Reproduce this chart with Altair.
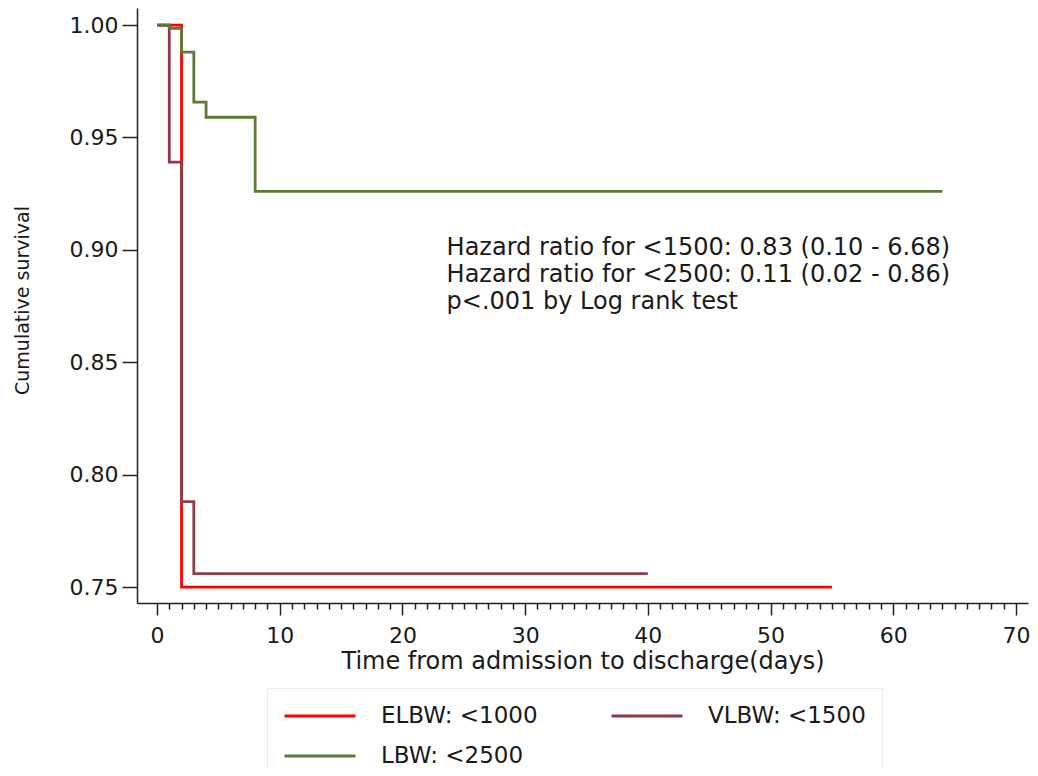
import altair as alt
import pandas as pd

# ---- data ----
groups = ["ELBW: <1000", "VLBW: <1500", "LBW: <2500"]
colors = ["#ff0000", "#8e3b47", "#5b7b34"]

elbw_time = [0, 2, 55]
elbw_surv = [1.0, 0.75, 0.75]

vlbw_time = [0, 1, 2, 3, 40]
vlbw_surv = [1.0, 0.939, 0.788, 0.756, 0.756]

lbw_time = [0, 1, 2, 3, 4, 8, 64]
lbw_surv = [1.0, 0.9985, 0.988, 0.9657, 0.959, 0.926, 0.926]

x_minor_ticks = list(range(0, 71))
x_major_ticks = [0, 10, 20, 30, 40, 50, 60, 70]
y_ticks = [0.75, 0.80, 0.85, 0.90, 0.95, 1.00]

annot_lines = [
    "Hazard ratio for <1500: 0.83 (0.10 - 6.68)",
    "Hazard ratio for <2500: 0.11 (0.02 - 0.86)",
    "p<.001 by Log rank test",
]
annot_x = [23.6]
annot_y = [0.8977]

x_title = "Time from admission to discharge(days)"
y_title = "Cumulative survival"

# ---- tables ----
rows = []
for g, ts, ss in zip(groups, [elbw_time, vlbw_time, lbw_time], [elbw_surv, vlbw_surv, lbw_surv]):
    for t, s in zip(ts, ss):
        rows.append({"group": g, "time": t, "surv": s})
df = pd.DataFrame(rows)

df_annot = pd.DataFrame({"x": annot_x, "y": annot_y, "text": ["\n".join(annot_lines)]})

FONT = "DejaVu Sans"
TXT = "#1a1a1a"

major_test = " || ".join(f"datum.value === {v}" for v in x_major_ticks)

x_scale = alt.Scale(domain=[-1.63, 70.98], nice=False, zero=False)
y_scale = alt.Scale(domain=[0.7429, 1.0076], nice=False, zero=False)
color_scale = alt.Scale(domain=groups, range=colors)

x_axis = alt.Axis(
    values=x_minor_ticks,
    tickCount=200,
    format="d",
    labelExpr=f"({major_test}) ? datum.label : ''",
    tickSize={"condition": {"test": major_test, "value": 12}, "value": 6},
    labelOverlap=False,
    labelFlush=False,
    labelFontSize=22,
    labelPadding=10,
    title=x_title,
    titleFontSize=24,
    titleFontWeight="normal",
    titlePadding=3,
    grid=False,
)
y_axis = alt.Axis(
    values=y_ticks,
    tickCount=20,
    format=".2f",
    tickSize=15,
    labelFontSize=22,
    labelPadding=4,
    title=y_title,
    titleFontSize=19,
    titleFontWeight="normal",
    titleAngle=270,
    titleAlign="center",
    titleBaseline="middle",
    titleX=-115,
    titleY=292,
    grid=False,
)

legend = alt.Legend(
    title=None,
    orient="none",
    legendX=130,
    legendY=680,
    direction="horizontal",
    columns=2,
    columnPadding=72,
    rowPadding=16,
    symbolType="stroke",
    symbolSize=5041,
    symbolStrokeWidth=3,
    clipHeight=24,
    labelOffset=24,
    labelFontSize=23,
    labelFont=FONT,
    labelColor=TXT,
    padding=16,
    strokeColor="#e6eded",
    fillColor="white",
    labelLimit=600,
)


def curve(i):
    return (
        alt.Chart(df)
        .transform_filter(alt.datum.group == groups[i])
        .mark_line(interpolate="step-after", strokeWidth=2.8)
        .encode(
            x=alt.X("time:Q", scale=x_scale, axis=x_axis),
            y=alt.Y("surv:Q", scale=y_scale, axis=y_axis),
            color=alt.Color("group:N", scale=color_scale, legend=legend),
        )
    )


text = (
    alt.Chart(df_annot)
    .mark_text(align="left", baseline="alphabetic", lineBreak="\n", lineHeight=27,
               fontSize=24, font=FONT, color=TXT)
    .encode(x=alt.X("x:Q", scale=x_scale), y=alt.Y("y:Q", scale=y_scale), text="text:N")
)

chart = (
    alt.layer(curve(0), curve(1), curve(2), text)
    .properties(
        width=891,
        height=595,
        padding={"left": 129, "top": 0, "right": 2, "bottom": 165},
        autosize=alt.AutoSizeParams(type="none"),
    )
    .configure_view(stroke=None)
    .configure_axis(
        labelFont=FONT,
        titleFont=FONT,
        labelColor=TXT,
        titleColor=TXT,
        domainColor="#222222",
        tickColor="#222222",
        domainWidth=1.5,
        tickWidth=1.5,
    )
)

chart.save("out.html", embed_options={"renderer": "svg", "actions": False})
